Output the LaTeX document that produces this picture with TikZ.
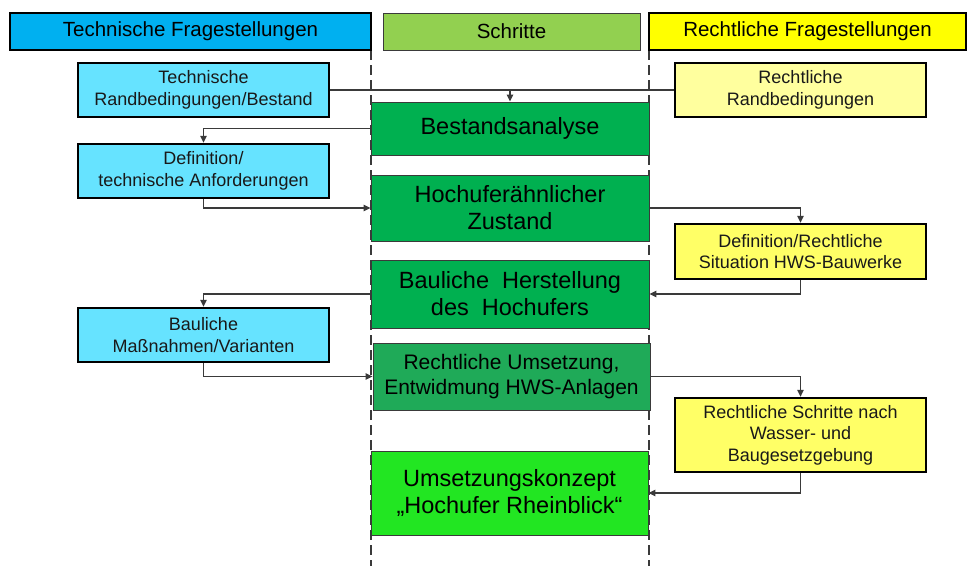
\documentclass[tikz,border=0pt]{standalone}
\usepackage{fontspec}
\setmainfont{Liberation Sans}
\usetikzlibrary{arrows.meta}
\definecolor{hcyan}{HTML}{00B0F0}
\definecolor{hgreen}{HTML}{92D050}
\definecolor{hyellow}{HTML}{FFFF00}
\definecolor{lcyan}{HTML}{66E3FF}
\definecolor{lyellowA}{HTML}{FFFF9E}
\definecolor{lyellowB}{HTML}{FFFF66}
\definecolor{stepgreen}{HTML}{00B050}
\definecolor{stepgreenB}{HTML}{1FAA58}
\definecolor{finalgreen}{HTML}{22E622}
\definecolor{linegray}{HTML}{3A3A3A}
\begin{document}
\begin{tikzpicture}[x=1pt,y=-1pt,
  hdr/.style={inner sep=0pt, font=\fontsize{20.5}{24}\selectfont, text=black},
  smallbox/.style={draw=black, line width=2.4pt, inner sep=0pt, align=center,
    minimum width=251pt, font=\fontsize{18}{21.5}\selectfont, text=black!90},
  gbox/.style={draw=linegray, line width=0.9pt, fill=stepgreen, inner sep=0pt, align=center,
    minimum width=278pt, font=\fontsize{23.5}{27}\selectfont, text=black},
  conn/.style={draw=linegray, line width=1.2pt, -{Triangle[length=7pt,width=6.5pt]}},
  plain/.style={draw=linegray, line width=1.2pt},
  divider/.style={draw=linegray, line width=1.4pt, dash pattern=on 10pt off 5pt}
]
\useasboundingbox (0,0) rectangle (968,566);

% column dividers
\coordinate (d1t) at (371,50);
\coordinate (d1b) at (371,566);
\coordinate (d2t) at (649,50);
\coordinate (d2b) at (649,566);
\draw[divider] (d1t) -- (d1b);
\draw[divider] (d2t) -- (d2b);

% headers
\node[hdr, draw=black, line width=2.6pt, fill=hcyan, minimum width=361pt, minimum height=37pt]
  (th) at (190.5,31.5) {Technische Fragestellungen};
\node[hdr, draw=linegray, line width=1pt, fill=hgreen, minimum width=257pt, minimum height=37pt]
  (sh) at (511.5,31.5) {Schritte};
\node[hdr, draw=black, line width=2.6pt, fill=hyellow, minimum width=317pt, minimum height=37pt]
  (rh) at (807.5,31.5) {Rechtliche Fragestellungen};

% technical boxes
\node[smallbox, fill=lcyan, minimum height=54pt] (tr) at (203.5,90)
  {Technische\\Randbedingungen/Bestand};
\node[smallbox, fill=lcyan, minimum height=54pt] (td) at (203.5,171)
  {Definition/\\technische Anforderungen};
\node[smallbox, fill=lcyan, minimum height=54pt] (tb) at (203.5,335)
  {Bauliche\\Maßnahmen/Varianten};

% legal boxes
\node[smallbox, fill=lyellowA, minimum height=54pt] (rr) at (800.5,90)
  {Rechtliche\\Randbedingungen};
\node[smallbox, fill=lyellowB, minimum height=55pt] (rd) at (800.5,251.5)
  {Definition/Rechtliche\\Situation HWS-Bauwerke};
\node[smallbox, fill=lyellowB, minimum height=74pt] (rs) at (800.5,435)
  {Rechtliche Schritte nach\\Wasser- und\\Baugesetzgebung};

% steps
\node[gbox, minimum height=53pt] (g1) at (510,128.5) {Bestandsanalyse};
\node[gbox, minimum height=66pt] (g2) at (510,208) {Hochuferähnlicher\\Zustand};
\node[gbox, minimum height=68pt] (g3) at (510,294) {Bauliche\ \ Herstellung\\des\ \ Hochufers};
\node[gbox, fill=stepgreenB, minimum height=67pt, minimum width=277pt,
  font=\fontsize{21}{25}\selectfont] (g4) at (511.5,376.5)
  {Rechtliche Umsetzung,\\Entwidmung HWS-Anlagen};
\node[gbox, fill=finalgreen, minimum height=84pt, minimum width=277pt] (g5) at (509.5,493)
  {Umsetzungskonzept\\„Hochufer Rheinblick“};

% connectors
\coordinate (m1) at (510,90);
\draw[plain] (tr.east) -- (m1);
\draw[plain] (rr.west) -- (m1);
\draw[conn] (m1) -- (g1.north);
\draw[conn] (g1.west) -| (td.north);
\draw[conn] (td.south) |- (g2.west);
\draw[conn] (g2.east) -| (rd.north);
\draw[conn] (rd.south) |- (g3.east);
\draw[conn] (g3.west) -| (tb.north);
\draw[conn] (tb.south) |- (g4.west);
\draw[conn] (g4.east) -| (rs.north);
\draw[conn] (rs.south) |- (g5.east);
\end{tikzpicture}
\end{document}
